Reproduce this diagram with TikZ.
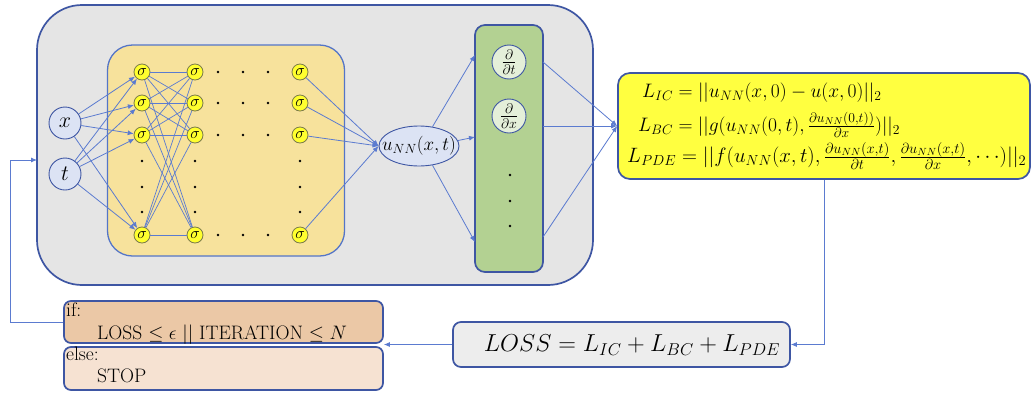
\RequirePackage{fix-cm}
\documentclass[tikz,border=0pt]{standalone}
\usetikzlibrary{arrows.meta,shapes.geometric,calc}
\definecolor{frame}{HTML}{3E56A3}
\definecolor{innerframe}{HTML}{5475C8}
\definecolor{wire}{HTML}{5B7BD0}
\definecolor{outerfill}{HTML}{E5E5E5}
\definecolor{netfill}{HTML}{F7E29C}
\definecolor{sigfill}{HTML}{FFFF2E}
\definecolor{sigedge}{HTML}{7A7A4A}
\definecolor{inputfill}{HTML}{DCE3F4}
\definecolor{derivfill}{HTML}{B3D192}
\definecolor{opfill}{HTML}{E4EFD9}
\definecolor{lossfill}{HTML}{FFFF40}
\definecolor{sumfill}{HTML}{EDEDED}
\definecolor{iffill}{HTML}{EBC8A6}
\definecolor{elsefill}{HTML}{F6E2D2}
\begin{document}
\begin{tikzpicture}[x=1pt,y=-1pt,
  panel/.style={draw=frame, line width=1.7pt, inner sep=0pt},
  sig/.style={circle, draw=sigedge, fill=sigfill, line width=0.8pt, minimum size=16pt, inner sep=0pt, font=\fontsize{16}{16}\selectfont},
  invar/.style={circle, draw=frame, fill=inputfill, line width=0.9pt, minimum size=32pt, inner sep=0pt, font=\fontsize{22}{22}\selectfont},
  opnode/.style={circle, draw=frame, fill=opfill, line width=0.9pt, minimum size=34pt, inner sep=0pt, font=\fontsize{20}{20}\selectfont},
  wireline/.style={draw=wire, line width=0.7pt},
  arr/.style={draw=wire, line width=0.8pt, -{Latex[length=6pt,width=5pt]}},
  blackdot/.style={fill=black},
  eqn/.style={anchor=west, inner sep=0pt, font=\fontsize{19.5}{24}\selectfont},
  lbl/.style={inner sep=0pt, font=\fontsize{19.5}{19.5}\selectfont}
]
\useasboundingbox (0,0) rectangle (1032,394);

% outer network panel and hidden-layer panel
\node[panel, fill=outerfill, rounded corners=45pt, minimum width=556pt, minimum height=280pt] (outer) at (315,145) {};
\node[draw=innerframe, line width=1.3pt, fill=netfill, rounded corners=25pt, minimum width=237pt, minimum height=211pt, inner sep=0pt] (net) at (226,150.5) {};

% inputs
\node[invar] (x) at (65,123) {$x$};
\node[invar] (t) at (65,174) {$t$};

% hidden neurons
\foreach \r/\y in {1/72,2/103,3/135,4/235} {
  \node[sig] (a\r) at (142,\y) {$\sigma$};
  \node[sig] (b\r) at (195,\y) {$\sigma$};
  \node[sig] (c\r) at (300,\y) {$\sigma$};
}

% output of the network
\node[ellipse, draw=frame, fill=inputfill, line width=0.9pt, minimum width=80pt, minimum height=40pt, inner xsep=-12pt, inner ysep=0pt, font=\fontsize{19}{19}\selectfont] (u) at (419,146) {$u_{NN}(x,t)$};

% derivative panel
\node[panel, fill=derivfill, rounded corners=10pt, minimum width=68pt, minimum height=247pt] (deriv) at (509,148.5) {};
\node[opnode] (dt) at (509,62) {$\frac{\partial}{\partial t}$};
\node[opnode] (dx) at (509,116) {$\frac{\partial}{\partial x}$};

% connections of the network
\foreach \i in {1,...,4} {
  \draw[arr] (x) -- (a\i);
  \draw[arr] (t) -- (a\i);
  \foreach \j in {1,...,4} \draw[wireline] (a\i) -- (b\j);
  \draw[arr] (c\i) -- (u.west);
}

% ellipsis dots inside the hidden layers
\foreach \y in {161,187,212} {
  \fill[blackdot] (142,\y) circle (1.3);
  \fill[blackdot] (195,\y) circle (1.3);
  \fill[blackdot] (300,\y) circle (1.3);
  \fill[blackdot] (510,\y+14) circle (1.3);
}
\foreach \y in {72,103,135,235}
  \foreach \xx in {218,243,268} \fill[blackdot] (\xx,\y) circle (1.3);

% loss terms
\node[panel, fill=lossfill, rounded corners=12pt, minimum width=412pt, minimum height=106pt] (lbox) at (824,126) {};
\node[eqn] (lic) at (642,93) {$L_{IC} = ||u_{NN}(x,0) - u(x,0)||_2$};
\node[eqn] (lbc) at (638,125) {$L_{BC} = ||g(u_{NN}(0,t), \frac{\partial u_{NN}(0,t))}{\partial x})||_2$};
\node[eqn, font=\fontsize{20.8}{24}\selectfont] (lpde) at (627,156) {$L_{PDE} = ||f(u_{NN}(x,t), \frac{\partial u_{NN}(x,t)}{\partial t}, \frac{\partial u_{NN}(x,t)}{\partial x}, \cdots)||_2$};

% derivative outputs feeding the loss
\coordinate (g1) at (475,55);
\coordinate (g2) at (475,137);
\coordinate (g3) at (475,242);
\coordinate (h1) at (543,62);
\coordinate (h2) at (543,126);
\coordinate (h3) at (543,237);
\draw[arr] (u.55) -- (g1);
\draw[arr] (u.8) -- (g2);
\draw[arr] (u.-55) -- (g3);
\draw[arr] (h1) -- (lbox.west);
\draw[arr] (h2) -- (lbox.west);
\draw[arr] (h3) -- (lbox.west);

% total loss
\node[panel, fill=sumfill, rounded corners=8pt, minimum width=337pt, minimum height=45pt] (lossbox) at (621.5,344.5) {};
\node[inner sep=0pt, font=\fontsize{24.5}{28}\selectfont] (losstxt) at (632,345) {$LOSS = L_{IC} + L_{BC} + L_{PDE}$};

% stopping test
\node[panel, fill=iffill, rounded corners=7pt, minimum width=319pt, minimum height=42pt] (ifbox) at (223.5,322) {};
\node[panel, fill=elsefill, rounded corners=7pt, minimum width=319pt, minimum height=43pt] (elsebox) at (223.5,368.5) {};
\node[lbl, anchor=base west] (iflbl) at (66,316) {if:};
\node[lbl, anchor=base west] (cond) at (97,339) {LOSS $\leq \epsilon$ $||$ ITERATION $\leq N$};
\node[lbl, anchor=base west] (elselbl) at (66,360) {else:};
\node[lbl, anchor=base west] (stop) at (97,382) {STOP};

% flow between the stages
\draw[arr] (lbox.south) |- (lossbox.east);
\draw[arr] (lossbox.west) -- (lossbox.west -| ifbox.east);
\coordinate (turn) at (10,160);
\coordinate (fb) at (37,160);
\draw[arr] (ifbox.west) -- (ifbox.west -| turn) |- (fb);
\end{tikzpicture}
\end{document}
